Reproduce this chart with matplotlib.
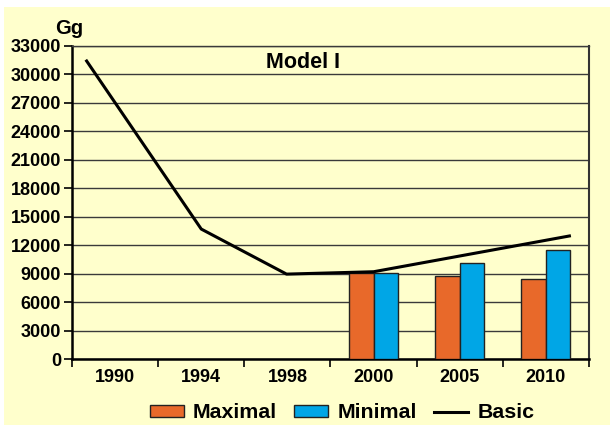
import matplotlib
matplotlib.use("Agg")
import matplotlib.pyplot as plt
import numpy as np
from matplotlib.patches import Rectangle, Patch
from matplotlib.lines import Line2D

plt.rcParams['font.family'] = ['Liberation Sans', 'DejaVu Sans']
plt.rcParams['font.weight'] = 'bold'

categories = ['1990', '1994', '1998', '2000', '2005', '2010']
maximal = [np.nan, np.nan, np.nan, 9100, 8700, 8400]
minimal = [np.nan, np.nan, np.nan, 9100, 10150, 11500]
basic_pos = [-0.34, 1.0, 1.99, 3.0, 5.29]
basic = [31550, 13700, 8950, 9200, 13000]
yticks = list(range(0, 33001, 3000))

bg = '#FFFFCC'
orange = '#E8692A'
blue = '#00A6E6'

fig = plt.figure(figsize=(6.1, 4.25), dpi=100)
fig.patch.set_facecolor('white')
fig.patches.append(Rectangle((4/610, 0), 1, 1 - 7/425, transform=fig.transFigure,
                             facecolor=bg, edgecolor='none', zorder=-10))

ax = fig.add_axes([72/610, 1 - 359/425, (589-72)/610, (359-46)/425])
ax.set_facecolor(bg)

x = np.arange(len(categories))
w = 0.285
ax.bar(x - w/2, maximal, w, color=orange, edgecolor='#222222', linewidth=1.0, zorder=3)
ax.bar(x + w/2, minimal, w, color=blue, edgecolor='#222222', linewidth=1.0, zorder=3)
ax.plot(basic_pos, basic, color='black', linewidth=2.2, zorder=4, solid_capstyle='butt')

ax.set_xlim(-0.5, len(categories) - 0.5)
ax.set_ylim(0, 33000)
ax.set_yticks(yticks)
ax.set_yticklabels([str(v) for v in yticks], fontsize=13, fontweight='bold')
ax.yaxis.grid(True, color='#3a3a3a', linewidth=1.0, zorder=0)
ax.set_axisbelow(True)

ax.set_xticks(x)
ax.set_xticklabels(categories, fontsize=13, fontweight='bold')
ax.set_xticks(np.arange(-0.5, len(categories)), minor=True)
ax.tick_params(axis='x', which='major', length=0, pad=7)
ax.tick_params(axis='x', which='minor', length=6, width=1.2, color='black')
ax.tick_params(axis='y', length=6, width=1.2, pad=2)

for s in ['left', 'bottom']:
    ax.spines[s].set_linewidth(1.8)
    ax.spines[s].set_color('black')
ax.spines['right'].set_linewidth(1.5)
ax.spines['right'].set_color('#333333')
ax.spines['top'].set_linewidth(1.0)
ax.spines['top'].set_color('#3a3a3a')

fig.text(69/610, 1 - 28/425, 'Gg', ha='center', va='center', fontsize=14.5, fontweight='bold')
fig.text(303/610, 1 - 62/425, 'Model I', ha='center', va='center', fontsize=15.5, fontweight='bold')

handles = [Patch(facecolor=orange, edgecolor='#222222', linewidth=1.0),
           Patch(facecolor=blue, edgecolor='#222222', linewidth=1.0),
           Line2D([0], [0], color='black', linewidth=2.2)]
fig.legend(handles, ['Maximal', 'Minimal', 'Basic'], loc='center',
           bbox_to_anchor=(342/610, 1 - 413/425), ncol=3, frameon=False,
           prop={'size': 15.4, 'weight': 'bold'}, handlelength=1.6, handleheight=0.45,
           handletextpad=0.42, columnspacing=0.8, borderpad=0, borderaxespad=0)

fig.savefig('out.png', dpi=100, facecolor=fig.get_facecolor())
